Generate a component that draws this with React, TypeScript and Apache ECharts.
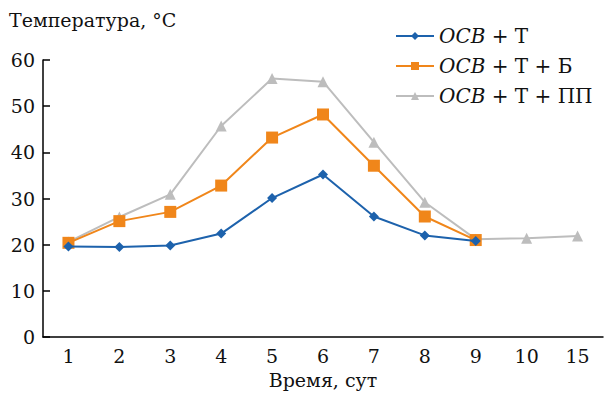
import React, { useEffect, useRef } from "react";
import * as echarts from "echarts";

const categories = ["1", "2", "3", "4", "5", "6", "7", "8", "9", "10", "15"];
const seriesT = [19.6, 19.5, 19.8, 22.4, 30.1, 35.2, 26.1, 22.0, 20.8, null, null];
const seriesTB = [20.4, 25.1, 27.1, 32.8, 43.2, 48.2, 37.1, 26.1, 21.0, null, null];
const seriesTPP = [20.6, 26.0, 30.9, 45.7, 56.0, 55.3, 42.2, 29.2, 21.2, 21.4, 21.9];
const yTicks = [0, 10, 20, 30, 40, 50, 60];
const legendNames = ["OCB + Т", "OCB + Т + Б", "OCB + Т + ПП"];

const FONT = "DejaVu Serif";

export default function App() {
  const ref = useRef<HTMLDivElement>(null);
  useEffect(() => {
    document.body.style.margin = "0";
    if (!ref.current) return;
    const chart = echarts.init(ref.current, null, { renderer: "svg" });
    const mk = (name: string, data: (number | null)[], color: string, symbol: string, size: number, z: number) => ({
      name,
      type: "line",
      data,
      symbol,
      symbolSize: size,
      z,
      connectNulls: false,
      lineStyle: { color, width: 2 },
      itemStyle: { color },
    });
    chart.setOption({
      animation: false,
      backgroundColor: "#ffffff",
      grid: { left: 43, right: 12, top: 60, bottom: 61 },
      legend: {
        orient: "vertical",
        left: 390,
        top: 21,
        itemWidth: 38,
        itemHeight: 10,
        itemGap: 10,
        data: legendNames,
        formatter: (n: string) => "{i|OCB}{n|" + n.replace("OCB", "") + "}",
        textStyle: {
          fontFamily: FONT,
          fontSize: 20,
          color: "#111",
          rich: {
            i: { fontFamily: FONT, fontSize: 20, fontStyle: "italic", color: "#111" },
            n: { fontFamily: FONT, fontSize: 20, color: "#111" },
          },
        },
      },
      xAxis: {
        type: "category",
        data: categories,
        boundaryGap: true,
        axisLine: { lineStyle: { color: "#000", width: 1.5 } },
        axisTick: { inside: true, length: 7, lineStyle: { color: "#000", width: 1.5 } },
        axisLabel: { fontFamily: FONT, fontSize: 19, color: "#111", margin: 9 },
        name: "Время, сут",
        nameLocation: "middle",
        nameGap: 33,
        nameTextStyle: { fontFamily: FONT, fontSize: 19, color: "#111" },
      },
      yAxis: {
        type: "value",
        min: yTicks[0],
        max: yTicks[yTicks.length - 1],
        interval: 10,
        splitLine: { show: false },
        axisLine: { show: true, lineStyle: { color: "#000", width: 1.5 } },
        axisTick: { show: true, inside: true, length: 7, lineStyle: { color: "#000", width: 1.5 } },
        axisLabel: { fontFamily: FONT, fontSize: 19, color: "#111", margin: 8 },
      },
      graphic: [
        {
          type: "text",
          left: 9,
          top: 10,
          style: { text: "Температура, °C", fontFamily: FONT, fontSize: 19, fill: "#111" },
        },
      ],
      series: [
        mk(legendNames[0], seriesT, "#1d62ac", "diamond", 10, 3),
        mk(legendNames[1], seriesTB, "#f0861a", "rect", 12, 2),
        mk(legendNames[2], seriesTPP, "#bdbdbd", "triangle", 11, 1),
      ],
    });
    return () => chart.dispose();
  }, []);
  return <div ref={ref} style={{ width: 615, height: 398 }} />;
}
